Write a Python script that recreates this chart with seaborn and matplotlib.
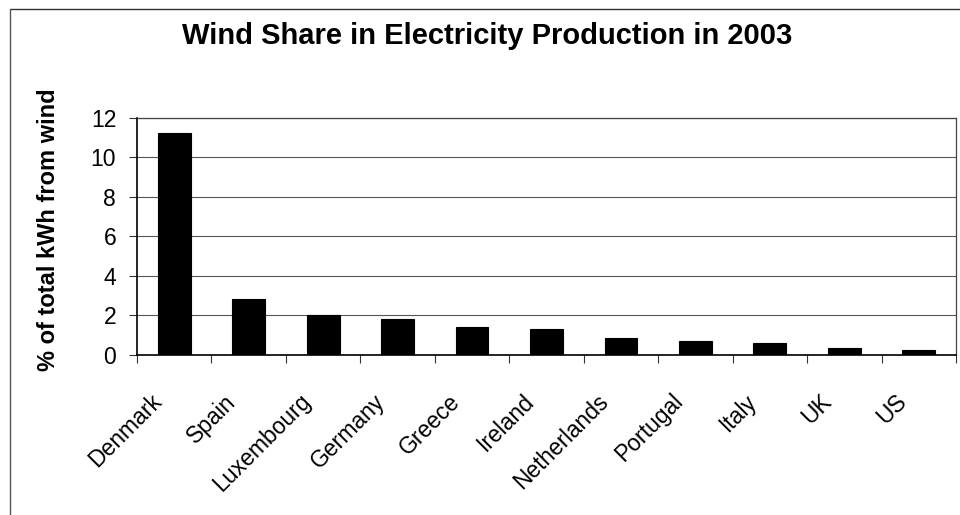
import matplotlib
matplotlib.use("Agg")
import matplotlib.pyplot as plt
import matplotlib.transforms as mtransforms
import seaborn as sns
import pandas as pd
from matplotlib.lines import Line2D

countries = ["Denmark", "Spain", "Luxembourg", "Germany", "Greece", "Ireland",
             "Netherlands", "Portugal", "Italy", "UK", "US"]
wind_share = [11.2, 2.85, 2.0, 1.83, 1.42, 1.3, 0.88, 0.73, 0.63, 0.33, 0.25]
y_ticks = [0, 2, 4, 6, 8, 10, 12]

df = pd.DataFrame({"country": countries, "share": wind_share})

sns.set_theme(style="white")
plt.rcParams["font.family"] = ["Liberation Sans", "DejaVu Sans"]
plt.rcParams["text.color"] = "black"
plt.rcParams["axes.labelcolor"] = "black"
plt.rcParams["xtick.color"] = "black"
plt.rcParams["ytick.color"] = "black"

fig = plt.figure(figsize=(9.6, 5.15), dpi=100)
ax = fig.add_axes([0.1427, 0.3107, 0.8531, 0.4608])

sns.barplot(data=df, x="country", y="share", color="black", width=0.44,
            saturation=1, edgecolor="black", linewidth=0.8, ax=ax, zorder=3)

ax.set_ylim(0, 12)
ax.set_xlim(-0.5, len(countries) - 0.5)
ax.set_yticks(y_ticks)
ax.set_yticklabels([str(t) for t in y_ticks], fontsize=16.5)
ax.yaxis.grid(True, color="#555555", linewidth=0.8, zorder=0)
ax.xaxis.grid(False)

# category-boundary ticks on the x axis
ax.set_xticks([i - 0.5 for i in range(len(countries) + 1)], minor=False)
ax.set_xticklabels([""] * (len(countries) + 1))
ax.set_xticks(range(len(countries)), minor=True)
ax.set_xticklabels(countries, minor=True, fontsize=16.5, rotation=45,
                   ha="right", va="center", rotation_mode="anchor")
ax.tick_params(axis="x", which="minor", length=0, pad=31)
ax.tick_params(axis="x", which="major", direction="out", length=6,
               width=0.8, color="#333333", bottom=True)
ax.tick_params(axis="y", direction="out", length=6, width=0.8,
               color="#333333", left=True, pad=9)

shift = mtransforms.ScaledTranslation(-16 / 100, 0, fig.dpi_scale_trans)
for lbl in ax.get_xticklabels(minor=True):
    lbl.set_transform(lbl.get_transform() + shift)

for side in ["left", "bottom"]:
    ax.spines[side].set_color("black")
    ax.spines[side].set_linewidth(1.2)
for side in ["top", "right"]:
    ax.spines[side].set_visible(True)
    ax.spines[side].set_color("#444444")
    ax.spines[side].set_linewidth(0.9)
    ax.spines[side].set_linestyle((0, (6, 1)))

ax.set_xlabel("")
ax.set_ylabel("% of total kWh from wind", fontsize=17, fontweight="bold")
ax.yaxis.set_label_coords(-0.094, 0.527)

fig.text(0.507, 0.930, "Wind Share in Electricity Production in 2003",
         ha="center", va="center", fontsize=21, fontweight="bold")

# outer chart frame (top and left edges)
fig.add_artist(Line2D([0.0099, 1.0], [0.9825, 0.9825], transform=fig.transFigure,
                      color="#333333", linewidth=1.0))
fig.add_artist(Line2D([0.0099, 0.0099], [0.0, 0.9825], transform=fig.transFigure,
                      color="#555555", linewidth=1.0))

fig.savefig("out.png", dpi=100, facecolor="white")
